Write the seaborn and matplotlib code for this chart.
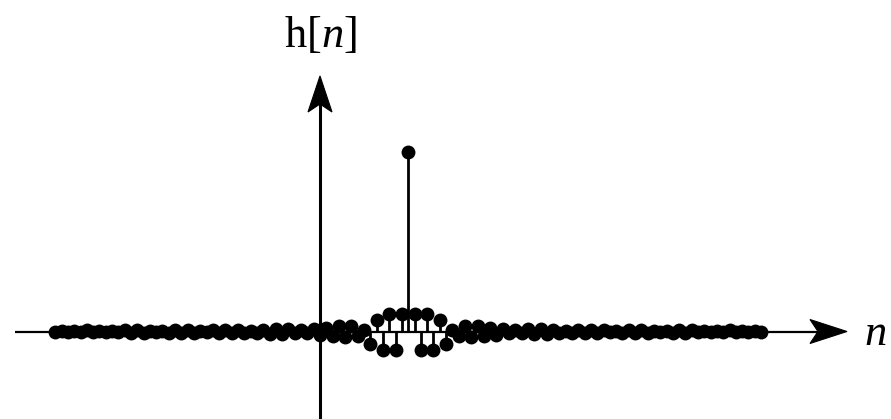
import matplotlib
matplotlib.use("Agg")
import matplotlib.pyplot as plt
from matplotlib.patches import Polygon
import seaborn as sns
import pandas as pd

# Sample indices and impulse response values h[n]
n_index = list(range(-42, 71))
h_values = [
    -0.003, 0.003, -0.004, 0.005, -0.005, 0.006, -0.005, 0.004, -0.003, 0.004,
    -0.005, 0.006, -0.007, 0.007, -0.006, 0.004, -0.004, 0.005, -0.007, 0.008,
    -0.009, 0.008, -0.006, 0.004, -0.005, 0.007, -0.009, 0.011, -0.011, 0.010,
    -0.008, 0.005, -0.007, 0.010, -0.013, 0.015, -0.016, 0.014, -0.010, 0.006,
    -0.008, 0.012, -0.018, 0.022, -0.025, 0.032, -0.028, 0.030, -0.025, 0.008,
    -0.068, 0.062, -0.105, 0.100, -0.105, 0.100,
    1.000,
    0.100, -0.105, 0.100, -0.105, 0.062, -0.068,
    0.008, -0.025, 0.030, -0.028, 0.032, -0.025, 0.022, -0.018, 0.012, -0.008,
    0.006, -0.010, 0.014, -0.016, 0.015, -0.013, 0.010, -0.007, 0.005, -0.008,
    0.010, -0.011, 0.011, -0.009, 0.007, -0.005, 0.004, -0.006, 0.008, -0.009,
    0.008, -0.007, 0.005, -0.004, 0.004, -0.006, 0.007, -0.007, 0.006, -0.005,
    0.004, -0.003, 0.004, -0.005, 0.006, -0.005, 0.005, -0.004, 0.003, -0.003,
]

df = pd.DataFrame({"n": n_index, "h": h_values})

sns.set_theme(style="white")
plt.rcParams["mathtext.fontset"] = "custom"
plt.rcParams["mathtext.rm"] = "Liberation Serif"
plt.rcParams["mathtext.it"] = "Liberation Serif:italic"

W, H = 891, 419
fig = plt.figure(figsize=(W / 100, H / 100), dpi=100)
ax = fig.add_axes([0, 0, 1, 1])
ax.set_xlim(-50.79, 90.63)
ax.set_ylim(-0.4861, 1.8417)
ax.axis("off")


def fig_px(points):
    """Convert pixel positions (origin top-left) to axes-fraction coordinates."""
    return [(x / W, 1 - y / H) for x, y in points]


# Coordinate axes: plain lines plus concave arrowheads
ax.plot([15 / W, 820 / W], [1 - 331.5 / H] * 2, transform=ax.transAxes,
        color="black", lw=1.6, zorder=1, solid_capstyle="butt")
ax.plot([320 / W, 320 / W], [0, 1 - 100 / H], transform=ax.transAxes,
        color="black", lw=2.2, zorder=1, solid_capstyle="butt")
head_x = fig_px([(847, 331.5), (810, 319.5), (818, 331.5), (810, 343.5)])
head_y = fig_px([(320, 76), (308, 112), (320, 104), (332, 112)])
for pts in (head_x, head_y):
    ax.add_patch(Polygon(pts, closed=True, transform=ax.transAxes,
                         facecolor="black", edgecolor="black", lw=0.8, zorder=1))

# Stems and sample markers
ax.vlines(df["n"], 0, df["h"], colors="black", lw=2.0, zorder=2)
sns.scatterplot(data=df, x="n", y="h", ax=ax, color="black", s=100,
                edgecolor="black", linewidth=0, zorder=3, legend=False)

# Axis labels
ax.text(320 / W, 1 - 47 / H, r"$\mathrm{h}[n]$", transform=ax.transAxes,
        ha="center", va="baseline", fontsize=32, color="black")
ax.text(864 / W, 1 - 345 / H, r"$n$", transform=ax.transAxes,
        ha="left", va="baseline", fontsize=32, color="black")

fig.savefig("out.png", dpi=100, facecolor="white")
